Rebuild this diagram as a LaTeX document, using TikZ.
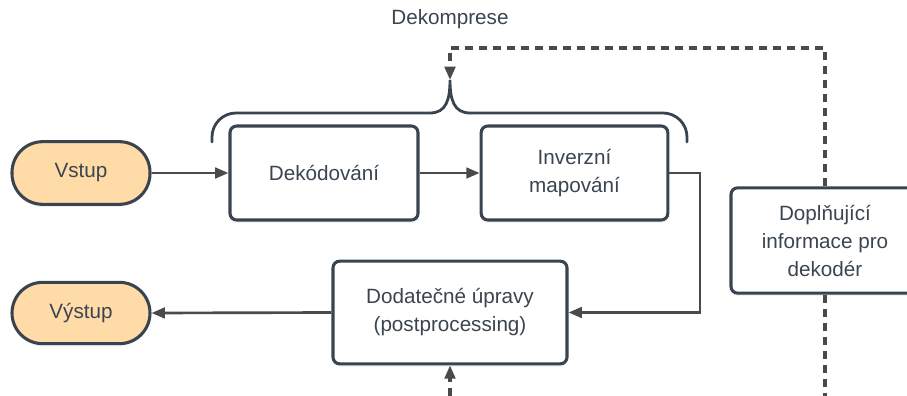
\documentclass[tikz,border=0pt]{standalone}
\usepackage{fontspec}
\setmainfont{Liberation Sans}
\usetikzlibrary{arrows.meta,shadows}
\definecolor{strokec}{HTML}{3A4450}
\definecolor{textc}{HTML}{3B4550}
\definecolor{linec}{HTML}{4A4A4A}
\definecolor{pillc}{HTML}{FFDBA8}
\tikzset{
  box/.style={draw=strokec, line width=2.3pt, fill=white, rounded corners=5pt,
    align=center, text=textc, inner sep=0pt,
    drop shadow={opacity=0.12, shadow xshift=0pt, shadow yshift=-2pt}},
  pill/.style={box, fill=pillc, rounded corners=23pt},
  conn/.style={draw=linec, line width=2pt, -{Triangle[length=10pt,width=8pt]}},
  dashline/.style={draw=linec, line width=2.3pt, dash pattern=on 6pt off 4.5pt},
  dconn/.style={dashline, -{Triangle[length=10pt,width=8pt]}},
  brace/.style={draw=strokec, line width=2.1pt, line cap=round},
  lbl/.style={text=textc}
}
\begin{document}
\begin{tikzpicture}[x=0.75pt,y=-0.75pt, font=\fontsize{15.5}{21}\selectfont]
\useasboundingbox (0,0) rectangle (907,396);
% nodes
\node[pill, minimum width=103.5pt, minimum height=47pt] (vstup) at (81,173) {Vstup};
\node[pill, minimum width=103.5pt, minimum height=46pt] (vystup) at (81,313) {Výstup};
\node[box, minimum width=141pt, minimum height=70.5pt] (dek) at (324,173) {Dekódování};
\node[box, minimum width=140pt, minimum height=70.5pt] (inv) at (574.5,173) {Inverzní\\mapování};
\node[box, minimum width=175.5pt, minimum height=77pt] (dod) at (450,312.5) {Dodatečné úpravy\\(postprocessing)};
\node[box, minimum width=141pt, minimum height=79pt] (dop) at (825,240.5) {Doplňující\\informace pro\\dekodér};
\node[lbl] (dekomp) at (450,19) {Dekomprese};
% brace
\coordinate (btip) at (450,80);
\draw[brace, rounded corners=18pt] (212,142) -- (212,113) -- (430,113);
\draw[brace] (430,113) .. controls (446,113) and (450,100) .. (btip)
  .. controls (450,100) and (454,113) .. (470,113);
\draw[brace, rounded corners=18pt] (470,113) -- (687,113) -- (687,142);
% connectors
\draw[conn] (vstup.east) -- (dek.west);
\draw[conn] (dek.east) -- (inv.west);
\draw[conn] (inv.east) -- (700,173) -- (700,312.5) -- (dod.east);
\draw[conn] (dod.west) -- (vystup.east);
% dashed
\coordinate (dtop) at (825,48);
\coordinate (dbot) at (825,396);
\coordinate (ubot) at (450,396);
\draw[dconn] (dop.north) -- (dtop) -- (450,48) -- (btip);
\draw[dashline] (dop.south) -- (dbot);
\draw[dconn] (ubot) -- (dod.south);
\end{tikzpicture}
\end{document}
